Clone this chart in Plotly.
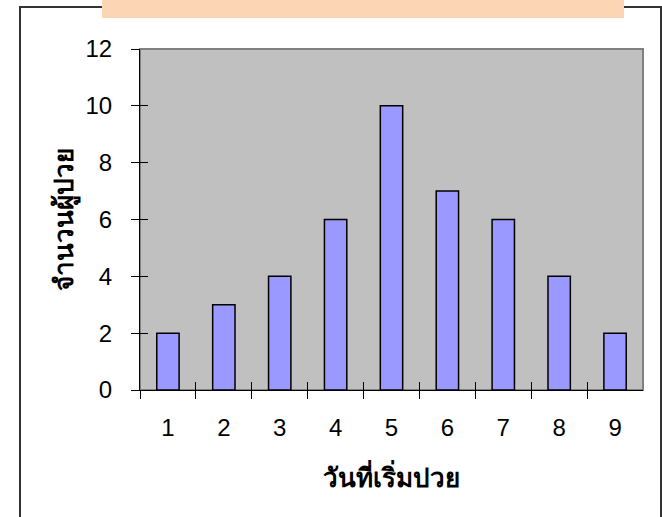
import plotly.graph_objects as go

# Onset day vs number of patients
days = ["1", "2", "3", "4", "5", "6", "7", "8", "9"]
patients = [2, 3, 4, 6, 10, 7, 6, 4, 2]
y_ticks = [0, 2, 4, 6, 8, 10, 12]

W, H = 662, 517
# plot area in pixels
PL, PR, PT, PB = 140, 643, 49, 390


def px(x):
    return x / W


def py(y):
    return 1 - y / H


FONT = "Liberation Sans, Arial, sans-serif"

fig = go.Figure()
fig.add_trace(go.Bar(
    x=days, y=patients, width=0.4,
    marker=dict(color="#9999FF", line=dict(color="black", width=1.5)),
    xaxis="x", yaxis="y",
))

fig.update_layout(
    width=W, height=H,
    margin=dict(l=0, r=0, t=0, b=0),
    template="none",
    paper_bgcolor="white",
    plot_bgcolor="#C0C0C0",
    showlegend=False,
    font=dict(family=FONT, size=24, color="black"),
    xaxis=dict(
        domain=[px(PL), px(PR)], anchor="y",
        type="category", range=[-0.5, 8.5],
        showline=True, linecolor="black", linewidth=1.2,
        showgrid=False, zeroline=False,
        ticks="outside", tickson="boundaries", ticklen=8,
        tickcolor="black", tickwidth=1,
        tickfont=dict(family=FONT, size=24),
        ticklabelstandoff=16,
        automargin=False,
    ),
    yaxis=dict(
        domain=[py(PB), py(PT)], anchor="x",
        range=[0, 12], tickvals=y_ticks,
        showline=True, linecolor="black", linewidth=1.2,
        showgrid=False, zeroline=False,
        ticks="outside", ticklen=8, tickcolor="black", tickwidth=1,
        tickfont=dict(family=FONT, size=24),
        ticklabelstandoff=14,
        automargin=False,
    ),
    # companion axes that draw the inner half of the crossing tick marks
    xaxis2=dict(
        domain=[px(PL), px(PR)], anchor="y2", overlaying="x",
        range=[-0.5, 8.5], tickvals=[i - 0.5 for i in range(len(days) + 1)],
        showticklabels=False, showgrid=False, zeroline=False, showline=False,
        ticks="inside", ticklen=8, tickcolor="black", tickwidth=1,
        automargin=False,
    ),
    yaxis2=dict(
        domain=[py(PB), py(PT)], anchor="x2", overlaying="y",
        range=[0, 12], tickvals=y_ticks,
        showticklabels=False, showgrid=False, zeroline=False, showline=False,
        ticks="inside", ticklen=8, tickcolor="black", tickwidth=1,
        automargin=False,
    ),
)

# invisible trace so the companion axes are drawn
fig.add_trace(go.Scatter(x=[0], y=[0], xaxis="x2", yaxis="y2",
                         mode="markers", marker=dict(opacity=0),
                         hoverinfo="skip"))

shapes = [
    # chart frame
    dict(type="rect", xref="paper", yref="paper",
         x0=px(20), x1=px(661), y0=py(530), y1=py(7),
         line=dict(color="#333333", width=2), fillcolor="rgba(0,0,0,0)",
         layer="below"),
    # title banner
    dict(type="rect", xref="paper", yref="paper",
         x0=px(102), x1=px(624), y0=py(18), y1=py(-5),
         line=dict(width=0), fillcolor="#FCD5B5", layer="below"),
    # plot area border
    dict(type="rect", xref="paper", yref="paper",
         x0=px(PL), x1=px(PR), y0=py(PB), y1=py(PT),
         line=dict(color="#808080", width=2), fillcolor="rgba(0,0,0,0)",
         layer="below"),
]
fig.update_layout(shapes=shapes)

fig.add_annotation(
    text="<b>วันที่เริ่มปวย</b>", xref="paper", yref="paper",
    x=px((PL + PR) / 2), y=py(476), xanchor="center", yanchor="middle",
    showarrow=False, font=dict(size=26, color="black"),
)
fig.add_annotation(
    text="<b>จำนวนผู้ปวย</b>", xref="paper", yref="paper",
    x=px(64), y=py((PT + PB) / 2), xanchor="center", yanchor="middle",
    textangle=-90, showarrow=False, font=dict(size=26, color="black"),
)

fig.write_html("out.html")
